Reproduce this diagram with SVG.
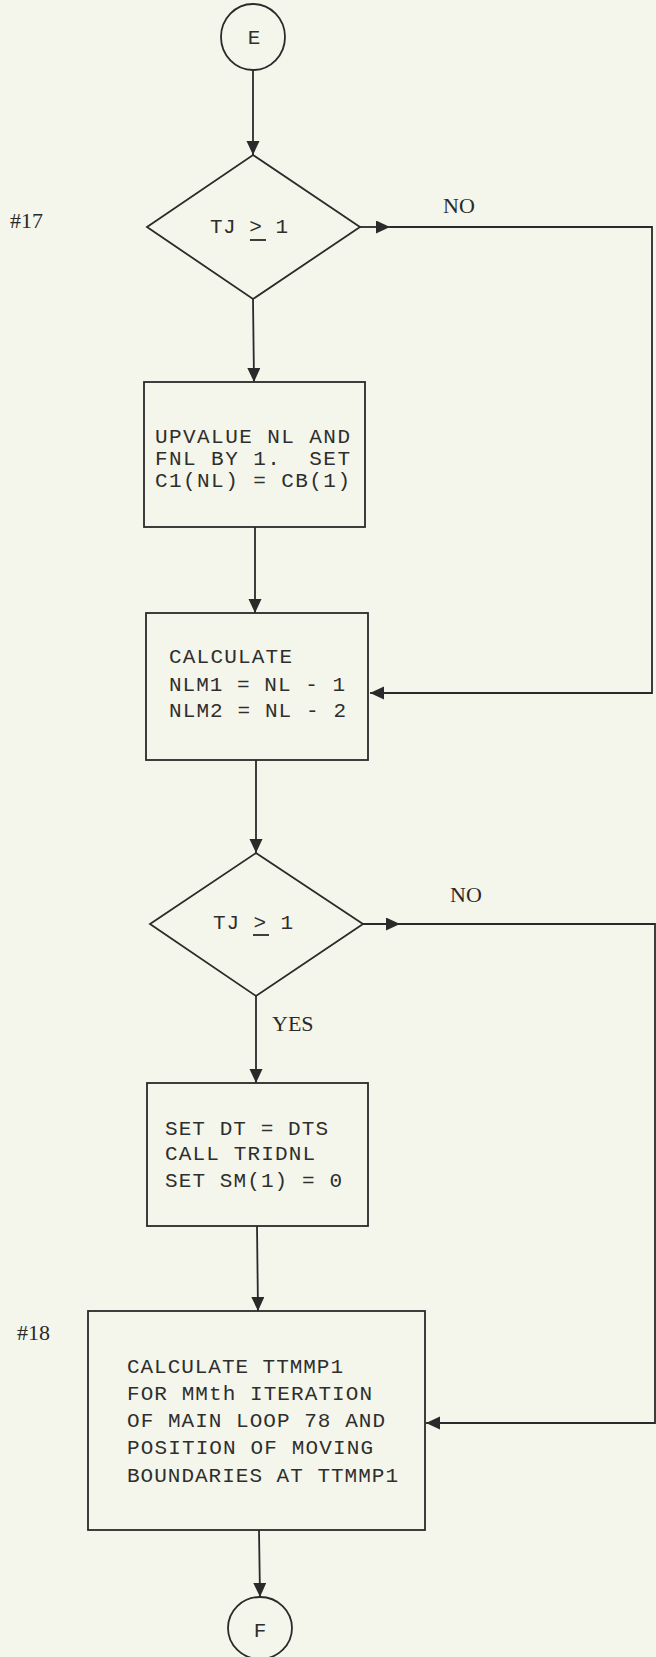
<svg xmlns="http://www.w3.org/2000/svg" width="656" height="1657" viewBox="0 0 656 1657">
<style>
.bg{fill:#f5f6eb}
.shape{fill:none;stroke:#2a2a2a;stroke-width:1.8}
.line{fill:none;stroke:#2a2a2a;stroke-width:1.8}
.tw{font-family:"Liberation Mono","DejaVu Sans Mono",monospace;font-size:21px;fill:#2e2e2e}
.lbl{font-family:"Liberation Serif","DejaVu Serif",serif;font-size:22px;fill:#2a2a2a}
</style>
<defs>
<marker id="ah" markerUnits="userSpaceOnUse" markerWidth="15" markerHeight="14" refX="14" refY="6.5" orient="auto">
<path d="M0,0 L14,6.5 L0,13 Z" fill="#2a2a2a"/>
</marker>
</defs>
<rect class="bg" x="0" y="0" width="656" height="1657"/>

<g id="connectors">
<line class="line" x1="253" y1="70" x2="253" y2="155" marker-end="url(#ah)"/>
<line class="line" x1="253" y1="299" x2="254" y2="382" marker-end="url(#ah)"/>
<line class="line" x1="255" y1="527" x2="255" y2="613" marker-end="url(#ah)"/>
<line class="line" x1="256" y1="760" x2="256" y2="853" marker-end="url(#ah)"/>
<line class="line" x1="256" y1="996" x2="256" y2="1083" marker-end="url(#ah)"/>
<line class="line" x1="257" y1="1226" x2="258" y2="1311" marker-end="url(#ah)"/>
<line class="line" x1="259" y1="1530" x2="260" y2="1597" marker-end="url(#ah)"/>
<line class="line" x1="360" y1="227" x2="390" y2="227" marker-end="url(#ah)"/>
<polyline class="line" points="390,227 652,227 652,693 380,693"/>
<line class="line" x1="385" y1="693" x2="370" y2="693" marker-end="url(#ah)"/>
<line class="line" x1="363" y1="924" x2="400" y2="924" marker-end="url(#ah)"/>
<polyline class="line" points="400,924 655,924 655,1423 435,1423"/>
<line class="line" x1="440" y1="1423" x2="426" y2="1423" marker-end="url(#ah)"/>
<text class="lbl" x="443" y="213">NO</text>
<text class="lbl" x="450" y="902">NO</text>
<text class="lbl" x="272" y="1031" font-size="23">YES</text>
</g>

<g id="labels">
<text class="lbl" x="10" y="228" font-size="24">#17</text>
<text class="lbl" x="17" y="1340" font-size="24">#18</text>
</g>

<g id="node-E">
<ellipse class="shape" cx="253" cy="37" rx="32" ry="33"/>
<text class="tw" x="254" y="44" text-anchor="middle">E</text>
</g>

<g id="node-d17">
<polygon class="shape" points="253,155 360,227 253,299 147,227"/>
<text class="tw" x="210" y="233" textLength="78" lengthAdjust="spacing">TJ &gt; 1</text>
<line class="line" x1="250" y1="240" x2="266" y2="240" stroke-width="1.3"/>
</g>

<g id="node-upvalue">
<rect class="shape" x="144" y="382" width="221" height="145"/>
<text class="tw" x="155" y="443" textLength="195" lengthAdjust="spacing">UPVALUE NL AND</text>
<text class="tw" x="155" y="465" textLength="195" lengthAdjust="spacing" xml:space="preserve">FNL BY 1.  SET</text>
<text class="tw" x="155" y="487" textLength="195" lengthAdjust="spacing">C1(NL) = CB(1)</text>
</g>

<g id="node-calc">
<rect class="shape" x="146" y="613" width="222" height="147"/>
<text class="tw" x="169" y="663" textLength="123" lengthAdjust="spacing">CALCULATE</text>
<text class="tw" x="169" y="691" textLength="176" lengthAdjust="spacing">NLM1 = NL - 1</text>
<text class="tw" x="169" y="717" textLength="177" lengthAdjust="spacing">NLM2 = NL - 2</text>
</g>

<g id="node-d2">
<polygon class="shape" points="256,853 363,924 256,996 150,924"/>
<text class="tw" x="213" y="929" textLength="80" lengthAdjust="spacing">TJ &gt; 1</text>
<line class="line" x1="253" y1="935" x2="269" y2="935" stroke-width="1.3"/>
</g>

<g id="node-set">
<rect class="shape" x="147" y="1083" width="221" height="143"/>
<text class="tw" x="165" y="1135" textLength="163" lengthAdjust="spacing">SET DT = DTS</text>
<text class="tw" x="165" y="1160" textLength="150" lengthAdjust="spacing">CALL TRIDNL</text>
<text class="tw" x="165" y="1187" textLength="177" lengthAdjust="spacing">SET SM(1) = 0</text>
</g>

<g id="node-ttmmp1">
<rect class="shape" x="88" y="1311" width="337" height="219"/>
<text class="tw" x="127" y="1373" textLength="216" lengthAdjust="spacing">CALCULATE TTMMP1</text>
<text class="tw" x="127" y="1400" textLength="245" lengthAdjust="spacing">FOR MMth ITERATION</text>
<text class="tw" x="127" y="1427" textLength="258" lengthAdjust="spacing">OF MAIN LOOP 78 AND</text>
<text class="tw" x="127" y="1454" textLength="246" lengthAdjust="spacing">POSITION OF MOVING</text>
<text class="tw" x="127" y="1482" textLength="271" lengthAdjust="spacing">BOUNDARIES AT TTMMP1</text>
</g>

<g id="node-F">
<ellipse class="shape" cx="260" cy="1628" rx="32" ry="31"/>
<text class="tw" x="260" y="1637" text-anchor="middle">F</text>
</g>
</svg>
